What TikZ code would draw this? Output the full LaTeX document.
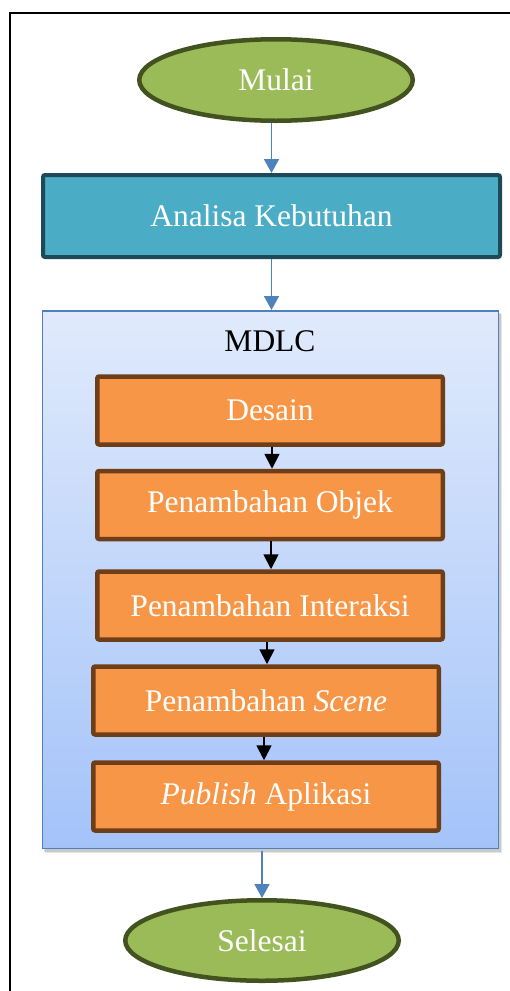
\documentclass[tikz,border=0pt]{standalone}
\usepackage{fontspec}
\setmainfont{Liberation Serif}
\usetikzlibrary{shapes.geometric,arrows.meta,shadows,calc}
\definecolor{termfill}{RGB}{155,187,89}
\definecolor{termdraw}{RGB}{66,83,32}
\definecolor{tealfill}{RGB}{75,172,198}
\definecolor{tealdraw}{RGB}{31,73,87}
\definecolor{orfill}{RGB}{247,150,70}
\definecolor{ordraw}{RGB}{110,62,25}
\definecolor{blueln}{RGB}{79,129,189}
\definecolor{mdlctop}{RGB}{224,234,252}
\definecolor{mdlcbot}{RGB}{164,195,249}
\begin{document}
\begin{tikzpicture}[x=1pt,y=-1pt,
  every node/.style={font=\fontsize{31.5}{36}\selectfont, inner sep=0pt},
  term/.style={ellipse, fill=termfill, draw=termdraw, line width=4.5pt, text=white,
    minimum width=273.5pt, minimum height=81.5pt},
  stepbox/.style={rectangle, rounded corners=2pt, fill=orfill, draw=ordraw, line width=4.5pt,
    text=white, minimum width=345.5pt, minimum height=68pt},
  bluearrow/.style={draw=blueln, line width=1.8pt, -{Triangle[width=15pt,length=14pt]}, blueln},
  blackarrow/.style={draw=black, line width=1.8pt, -{Triangle[width=15pt,length=15pt]}}
]
\useasboundingbox (0,0) rectangle (510,991);
% outer frame
\draw[line width=1.5pt] (10,991) -- (10,13) -- (510,13);

\node[term] (mulai) at (276,80) {Mulai};
\node[rectangle, rounded corners=2pt, fill=tealfill, draw=tealdraw, line width=4pt, text=white,
  minimum width=457pt, minimum height=82pt] (analisa) at (271.5,216) {Analisa Kebutuhan};

% soft shadow of the MDLC box
\fill[black, opacity=0.10] (45,314) rectangle (502,853);
\fill[black, opacity=0.12] (44,313) rectangle (501,852);
\node[rectangle, draw=blueln, line width=1.5pt, top color=mdlctop, bottom color=mdlcbot,
  minimum width=456pt, minimum height=537.5pt] (mdlc) at (270.5,579.5) {};
\node[text=black] (mdlclabel) at (270,341) {MDLC};

\node[stepbox] (desain) at (270,410.5) {Desain};
\node[stepbox] (objek) at (270,505) {Penambahan Objek};
\node[stepbox] (interaksi) at (270,605.5) {Penambahan Interaksi};
\node[stepbox] (scene) at (266,700.5) {Penambahan \textit{Scene}};
\node[stepbox] (publish) at (266,796.5) {\textit{Publish} Aplikasi};

\node[term, minimum height=80.5pt] (selesai) at (262,940.5) {Selesai};

% connectors
\draw[bluearrow] (mulai.south -| analisa.north) -- (analisa.north);
\draw[bluearrow] (analisa.south) -- (analisa.south |- mdlc.north);
\draw[blackarrow] ([xshift=2pt]desain.south) -- ([xshift=2pt]desain.south |- objek.north);
\draw[blackarrow] ([xshift=1pt]objek.south) -- ([xshift=1pt]objek.south |- interaksi.north);
\draw[blackarrow] ([xshift=1pt]scene.north |- interaksi.south) -- ([xshift=1pt]scene.north);
\draw[blackarrow] ([xshift=-2pt]scene.south) -- ([xshift=-2pt]scene.south |- publish.north);
\draw[bluearrow] ([yshift=-2pt]selesai.north |- mdlc.south) -- (selesai.north);
\end{tikzpicture}
\end{document}
